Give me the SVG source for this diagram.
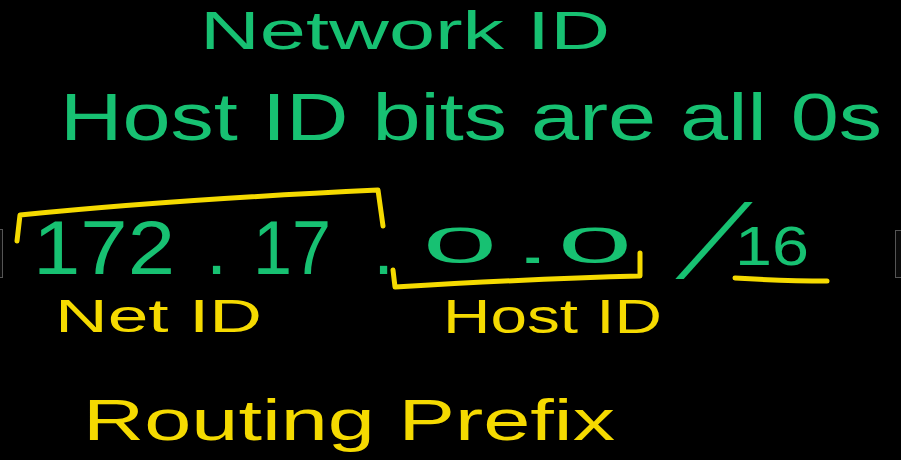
<svg xmlns="http://www.w3.org/2000/svg" width="901" height="460" viewBox="0 0 901 460">
<style>
.g{fill:#17c172;font-family:"Liberation Sans",Arial,sans-serif}
.y{fill:#f5da00;font-family:"Liberation Sans",Arial,sans-serif}
.ys{fill:none;stroke:#f5da00;stroke-width:5;stroke-linecap:round;stroke-linejoin:round}
</style>
<rect x="0" y="0" width="901" height="460" fill="#000"/>
<rect x="-2" y="229.5" width="4.5" height="48" fill="#0a0a0a" stroke="#555" stroke-width="1"/>
<rect x="895.5" y="230.5" width="8" height="47" fill="#0a0a0a" stroke="#555" stroke-width="1"/>
<text class="g" x="200" y="49" font-size="54" textLength="410" lengthAdjust="spacingAndGlyphs">Network ID</text>
<text class="g" x="60" y="140" font-size="66" textLength="822" lengthAdjust="spacingAndGlyphs">Host ID bits are all 0s</text>
<text class="g" y="274" font-size="76"><tspan x="33" textLength="142" lengthAdjust="spacingAndGlyphs">172</tspan><tspan x="206">.</tspan><tspan x="253" textLength="78" lengthAdjust="spacingAndGlyphs">17</tspan><tspan x="373">.</tspan></text>
<text class="g" transform="translate(423,263) scale(1.9,0.72)" font-size="70"><tspan x="0">0</tspan><tspan x="48">.</tspan><tspan x="71">0</tspan></text>
<text class="g" transform="translate(676,278) skewX(-32)" font-size="105">/</text>
<text class="g" x="735" y="265" font-size="56" textLength="74" lengthAdjust="spacingAndGlyphs">16</text>
<path class="ys" d="M17,241 L20,215 C120,205 250,196 378,190 L383,226"/>
<path class="ys" d="M393,270 L395,287 C480,282 560,278 640,276 L640,253"/>
<path class="ys" d="M735,278 C770,280 800,281 827,281"/>
<text class="y" x="55" y="332" font-size="46" textLength="207" lengthAdjust="spacingAndGlyphs">Net ID</text>
<text class="y" x="443" y="333" font-size="48" textLength="219" lengthAdjust="spacingAndGlyphs">Host ID</text>
<text class="y" x="83" y="440" font-size="58" textLength="532" lengthAdjust="spacingAndGlyphs">Routing Prefix</text>
</svg>
